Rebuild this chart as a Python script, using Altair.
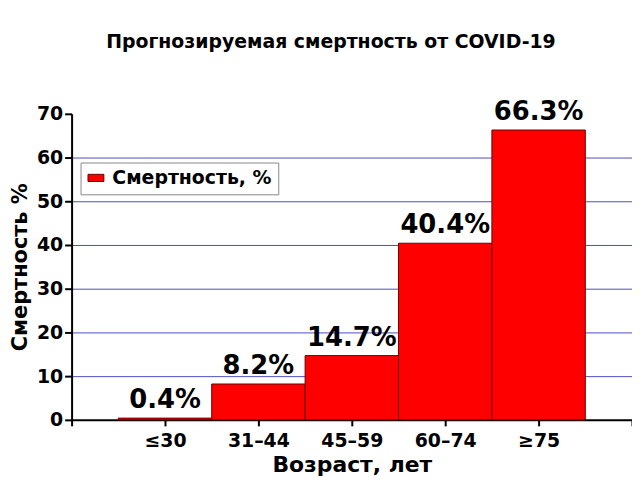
import json
import pandas as pd
import altair as alt

# Data
age_groups = ["≤30", "31–44", "45–59", "60–74", "≥75"]
mortality = [0.4, 8.2, 14.7, 40.4, 66.3]
series_name = "Смертность, %"

df = pd.DataFrame({
    "age": age_groups,
    "pos": list(range(1, len(age_groups) + 1)),
    "mortality": mortality,
    "series": series_name,
})
df["start"] = df["pos"] - 0.5
df["end"] = df["pos"] + 0.5

font = "DejaVu Sans"
label_expr = "datum.value >= 1 && datum.value <= 5 ? {}[datum.value - 1] : ''".format(
    json.dumps(age_groups, ensure_ascii=False)
)

base = alt.Chart(df)

bars = base.mark_bar(stroke="#6a0000", strokeWidth=1).encode(
    x=alt.X(
        "start:Q",
        scale=alt.Scale(domain=[0, 6], nice=False, zero=False),
        axis=alt.Axis(
            title="Возраст, лет",
            values=[0, 1, 2, 3, 4, 5, 6],
            labelExpr=label_expr,
            grid=False,
            domainColor="black",
            domainWidth=2,
            tickColor="black",
            tickWidth=2,
            tickSize=6,
            labelFont=font,
            labelFontSize=19,
            labelFontWeight="bold",
            labelColor="black",
            labelPadding=6,
            titleFont=font,
            titleFontSize=22,
            titleFontWeight="bold",
            titleColor="black",
            titlePadding=4,
        ),
    ),
    x2="end:Q",
    y=alt.Y(
        "mortality:Q",
        scale=alt.Scale(domain=[0, 70], nice=False),
        axis=alt.Axis(
            title="Смертность %",
            values=[0, 10, 20, 30, 40, 50, 60, 70],
            grid=True,
            gridColor={"condition": {"test": "datum.value == 70 || datum.value == 0", "value": "transparent"},
                       "value": "#4f4fc4"},
            gridWidth=1,
            domainColor="black",
            domainWidth=2,
            tickColor="black",
            tickWidth=2,
            tickSize=7,
            labelFont=font,
            labelFontSize=19,
            labelFontWeight="bold",
            labelColor="black",
            labelPadding=2,
            titleFont=font,
            titleFontSize=21,
            titleFontWeight="bold",
            titleColor="black",
            titlePadding=6,
        ),
    ),
    y2=alt.datum(0),
    color=alt.Color(
        "series:N",
        scale=alt.Scale(domain=[series_name], range=["#ff0000"]),
        legend=alt.Legend(
            title=None,
            orient="none",
            legendX=9,
            legendY=49,
            fillColor="white",
            strokeColor="#888888",
            padding=6,
            symbolType="M-1,-0.45H1V0.45H-1Z",
            symbolSize=256,
            symbolStrokeColor="#6a0000",
            symbolStrokeWidth=1,
            labelFont=font,
            labelFontSize=19,
            labelFontWeight="bold",
            labelColor="black",
            labelOffset=7,
            labelLimit=400,
        ),
    ),
)

labels = base.mark_text(
    font=font, fontSize=26, fontWeight="bold", color="black", baseline="bottom", dy=-5
).transform_calculate(
    label="format(datum.mortality, '.1f') + '%'"
).encode(
    x="pos:Q",
    y="mortality:Q",
    text="label:N",
)

chart = alt.layer(bars, labels).properties(
    width=564,
    height=308,
    autosize=alt.AutoSizeParams(type="none"),
    padding={"left": 64, "top": 105, "right": 0, "bottom": 56},
    title=alt.TitleParams(
        "Прогнозируемая смертность от COVID-19",
        font=font,
        fontSize=19,
        fontWeight="bold",
        color="black",
        anchor="middle",
        dx=-21,
        offset=48,
    ),
).configure_view(stroke=None)

chart.save("out.html", embed_options={"renderer": "svg", "actions": False})
